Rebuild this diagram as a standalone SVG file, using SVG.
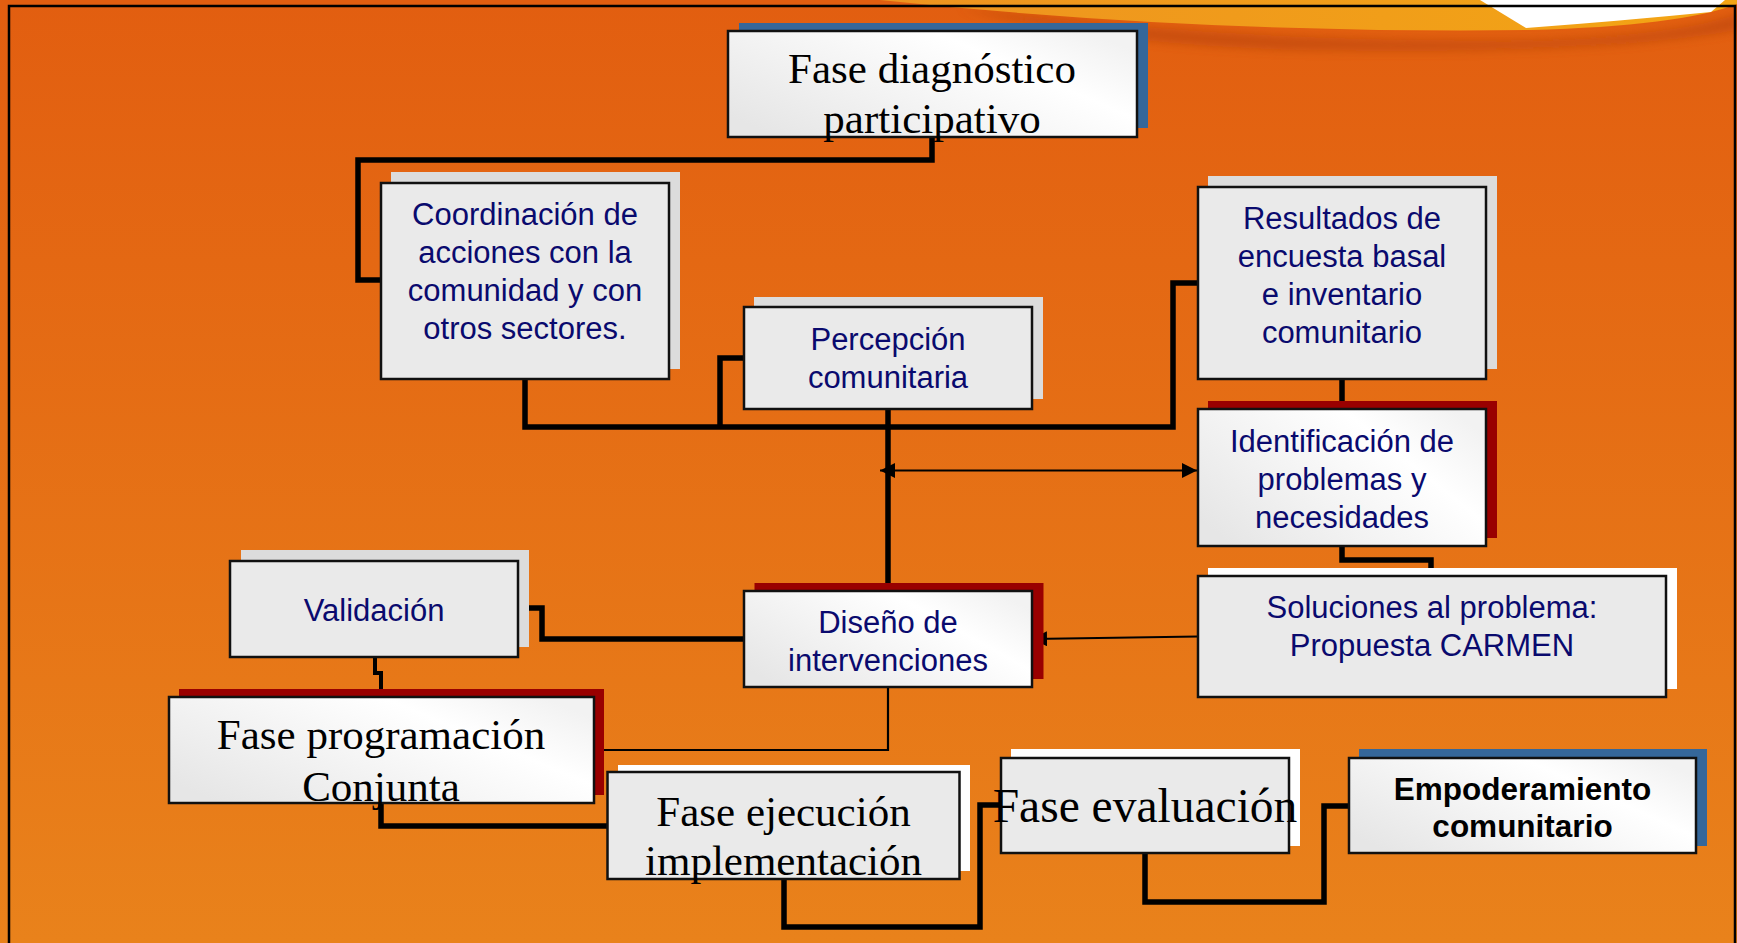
<svg xmlns="http://www.w3.org/2000/svg" width="1737" height="943" viewBox="0 0 1737 943">
<defs>
<linearGradient id="bg" x1="0" y1="0" x2="0" y2="1">
<stop offset="0" stop-color="#E25E10"/>
<stop offset="1" stop-color="#E9821B"/>
</linearGradient>
<linearGradient id="yel" x1="0" y1="0" x2="1" y2="0">
<stop offset="0" stop-color="#EE9420"/>
<stop offset="1" stop-color="#F3A514"/>
</linearGradient>
<linearGradient id="shine" x1="0" y1="0.8" x2="1" y2="0.2">
<stop offset="0" stop-color="#E6E6E6"/>
<stop offset="0.72" stop-color="#FFFFFF"/>
<stop offset="1" stop-color="#F2F2F2"/>
</linearGradient>
<filter id="blur" x="-10%" y="-100%" width="120%" height="300%">
<feGaussianBlur stdDeviation="5"/>
</filter>
<marker id="ah" viewBox="0 0 10 10" refX="10" refY="5" markerWidth="15" markerHeight="15" markerUnits="userSpaceOnUse" orient="auto-start-reverse">
<path d="M0,0 L10,5 L0,10 z" fill="#000"/>
</marker>
<style>
.thick{fill:none;stroke:#000;stroke-width:5.5;stroke-linejoin:miter}
.thin{fill:none;stroke:#000;stroke-width:2.2}
.box{fill:#EAEAEA;stroke:#111;stroke-width:2.5}
.boxg{fill:url(#shine);stroke:#111;stroke-width:2.5}
.sg{fill:#DCDCDC}
.sr{fill:#990000}
.sb{fill:#35679A}
.sw{fill:#FFFFFF}
.sans{font-family:"Liberation Sans",Arial,sans-serif;font-size:31px;fill:#0A0A6E;text-anchor:middle}
.bold{font-family:"Liberation Sans",Arial,sans-serif;font-size:31.5px;font-weight:bold;fill:#000;text-anchor:middle}
.serif{font-family:"Liberation Serif","Times New Roman",serif;font-size:43px;fill:#000;text-anchor:middle}
</style>
</defs>
<rect x="0" y="0" width="1737" height="943" fill="url(#bg)"/>
<g id="swoosh">
<path d="M960 8 Q1250 45 1540 40 Q1680 35 1737 14 L1737 30 Q1600 55 1300 50 Q1100 45 960 8 Z" fill="#B8420C" opacity="0.6" filter="url(#blur)"/>
<path d="M880 0 Q1200 34 1530 30 Q1680 26 1737 4 L1737 0 Z" fill="url(#yel)"/>
<path d="M1480 0 L1526 28 Q1620 21 1711 12 L1725 0 Z" fill="#FFFFFF"/>
</g>
<rect x="9" y="6" width="1726" height="960" fill="none" stroke="#000" stroke-width="2.5"/>
<g id="connectors">
<polyline class="thick" points="932,137 932,160 358,160 358,280 381,280"/>
<polyline class="thick" points="525,379 525,427 1173,427 1173,283 1198,283"/>
<polyline class="thick" points="744,358 720,358 720,427"/>
<polyline class="thick" points="888,409 888,591"/>
<polyline class="thick" points="1342,379 1342,409"/>
<polyline class="thick" points="1342,546 1342,560 1431,560 1431,576"/>
<polyline class="thick" points="744,639 542,639 542,608 518,608"/>
<polyline class="thick" style="stroke-width:4" points="375,657 375,673 381,673 381,697"/>
<polyline class="thick" points="381,803 381,826 607,826"/>
<polyline class="thick" points="784,879 784,927 980,927 980,805 1001,805"/>
<polyline class="thick" points="1145,853 1145,902 1324,902 1324,806 1349,806"/>
<polyline class="thin" points="888,687 888,750 594,750"/>
<line class="thin" x1="880" y1="470.5" x2="1197" y2="470.5" marker-start="url(#ah)" marker-end="url(#ah)"/>
<line class="thin" x1="1198" y1="636.5" x2="1032" y2="639" marker-end="url(#ah)"/>
</g>
<g id="diag">
<rect class="sb" x="739" y="23" width="409" height="105"/>
<rect class="boxg" x="728" y="31" width="409" height="106"/>
<text class="serif" x="932" y="83">Fase diagnóstico</text>
<text class="serif" x="932" y="133">participativo</text>
</g>
<g id="coord">
<rect class="sg" x="391" y="172" width="289" height="197"/>
<rect class="box" x="381" y="183" width="288" height="196"/>
<text class="sans" x="525" y="225">Coordinación de</text>
<text class="sans" x="525" y="263">acciones con la</text>
<text class="sans" x="525" y="301">comunidad y con</text>
<text class="sans" x="525" y="339">otros sectores.</text>
</g>
<g id="perc">
<rect class="sg" x="754" y="297" width="289" height="102"/>
<rect class="box" x="744" y="307" width="288" height="102"/>
<text class="sans" x="888" y="350">Percepción</text>
<text class="sans" x="888" y="388">comunitaria</text>
</g>
<g id="result">
<rect class="sg" x="1208" y="176" width="289" height="193"/>
<rect class="box" x="1198" y="187" width="288" height="192"/>
<text class="sans" x="1342" y="229">Resultados de</text>
<text class="sans" x="1342" y="267">encuesta basal</text>
<text class="sans" x="1342" y="305">e inventario</text>
<text class="sans" x="1342" y="343">comunitario</text>
</g>
<g id="ident">
<rect class="sr" x="1208" y="401" width="289" height="137"/>
<rect class="boxg" x="1198" y="409" width="288" height="137"/>
<text class="sans" x="1342" y="452">Identificación de</text>
<text class="sans" x="1342" y="490">problemas y</text>
<text class="sans" x="1342" y="528">necesidades</text>
</g>
<g id="soluc">
<rect class="sw" x="1208" y="568" width="469" height="121"/>
<rect class="box" x="1198" y="576" width="468" height="121"/>
<text class="sans" x="1432" y="618">Soluciones al problema:</text>
<text class="sans" x="1432" y="656">Propuesta CARMEN</text>
</g>
<g id="diseno">
<rect class="sr" x="754.5" y="583" width="289" height="96"/>
<rect class="boxg" x="744" y="591" width="288" height="96"/>
<text class="sans" x="888" y="633">Diseño de</text>
<text class="sans" x="888" y="671">intervenciones</text>
</g>
<g id="valid">
<rect class="sg" x="241" y="550" width="288" height="97"/>
<rect class="box" x="230" y="561" width="288" height="96"/>
<text class="sans" x="374" y="621">Validación</text>
</g>
<g id="prog">
<rect class="sr" x="179" y="689" width="425" height="106"/>
<rect class="boxg" x="169" y="697" width="425" height="106"/>
<text class="serif" x="381" y="749">Fase programación</text>
<text class="serif" x="381" y="801">Conjunta</text>
</g>
<g id="ejec">
<rect class="sw" x="618" y="765" width="352" height="106"/>
<rect class="box" x="607.5" y="772" width="352" height="107"/>
<text class="serif" x="783.5" y="826">Fase ejecución</text>
<text class="serif" x="783.5" y="875">implementación</text>
</g>
<g id="eval">
<rect class="sw" x="1011" y="749" width="289" height="97"/>
<rect class="box" x="1001" y="758" width="288" height="95"/>
<text class="serif" style="font-size:47.5px" x="1145" y="822">Fase evaluación</text>
</g>
<g id="empo">
<rect class="sb" x="1359" y="749" width="348" height="97"/>
<rect class="boxg" x="1349" y="758" width="347" height="95"/>
<text class="bold" x="1522.5" y="800">Empoderamiento</text>
<text class="bold" x="1522.5" y="837">comunitario</text>
</g>
</svg>
